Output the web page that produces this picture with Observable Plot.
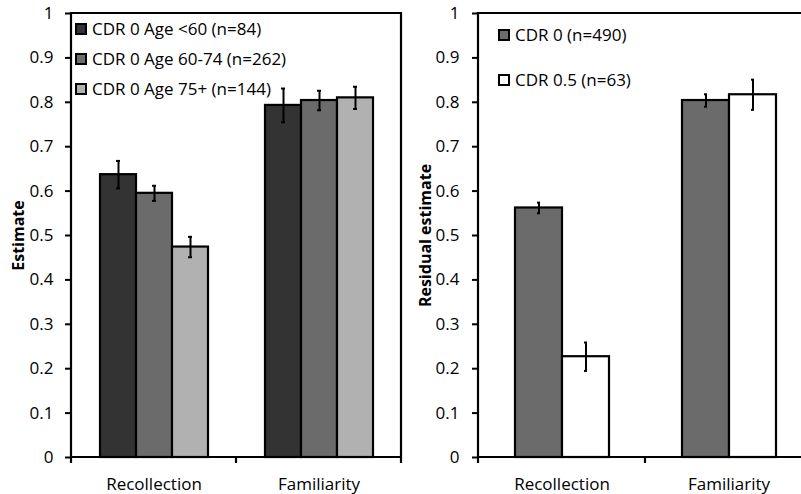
<!DOCTYPE html>
<html>
<head>
<meta charset="utf-8">
<script src="https://cdn.jsdelivr.net/npm/d3@7"></script>
<script src="https://cdn.jsdelivr.net/npm/@observablehq/plot@0.6"></script>
<style>
  body { margin: 0; background: #fff; }
  #wrap { position: relative; width: 801px; height: 494px; overflow: hidden; font-family: "Open Sans", sans-serif; background: #fff; }
  .panel { position: absolute; top: 0; }
  .panel svg { max-width: none !important; }
  .legend-row { position: absolute; display: flex; align-items: center; white-space: nowrap; font-size: 17px; line-height: 24px; height: 24px; color: #000; }
  .legend-row .sw { box-sizing: border-box; width: 12px; height: 12px; border: 2px solid #000; margin-right: 5px; }
</style>
</head>
<body>
<div id="wrap"></div>
<script>
// ---- data ----
const categories = ["Recollection", "Familiarity"];

const leftSeries = ["CDR 0 Age <60 (n=84)", "CDR 0 Age 60-74 (n=262)", "CDR 0 Age 75+ (n=144)"];
const leftColors = ["#333333", "#6b6b6b", "#b1b1b1"];
const leftRecollection = [0.637, 0.595, 0.474];
const leftRecollectionErr = [0.031, 0.017, 0.023];
const leftFamiliarity = [0.793, 0.804, 0.810];
const leftFamiliarityErr = [0.038, 0.022, 0.025];

const rightSeries = ["CDR 0 (n=490)", "CDR 0.5 (n=63)"];
const rightColors = ["#6b6b6b", "#ffffff"];
const rightRecollection = [0.562, 0.227];
const rightRecollectionErr = [0.012, 0.032];
const rightFamiliarity = [0.804, 0.817];
const rightFamiliarityErr = [0.014, 0.034];

const yTicks = [0, 0.1, 0.2, 0.3, 0.4, 0.5, 0.6, 0.7, 0.8, 0.9, 1];
const yTickLabels = ["0", "0.1", "0.2", "0.3", "0.4", "0.5", "0.6", "0.7", "0.8", "0.9", "1"];

const leftTitle = "Estimate";
const rightTitle = "Residual estimate";

// ---- build ----
const H = 494;
const wrap = document.getElementById("wrap");

function rowsFor(series, recV, recE, famV, famE) {
  const vals = [recV, famV], errs = [recE, famE];
  return categories.flatMap((c, i) => series.map((s, j) => ({category: c, series: s, value: vals[i][j], err: errs[i][j]})));
}

function drawFrame(chart, marginLeft, marginRight, width, tickLen) {
  let band;
  try {
    const fx = chart.scale("fx");
    band = d3.scaleBand(fx.domain, fx.range).paddingInner(fx.paddingInner ?? 0).paddingOuter(fx.paddingOuter ?? 0);
  } catch (e) {
    band = d3.scaleBand(categories, [marginLeft, width - marginRight]);
  }
  const y = chart.scale("y");
  const ys = d3.scaleLinear(y.domain, y.range);
  const left = band(categories[0]);
  const right = band(categories[categories.length - 1]) + band.bandwidth();
  const top = ys(1), bottom = ys(0);
  const g = d3.select(chart).append("g").attr("stroke", "#000").attr("stroke-width", 2.2).attr("fill", "none");
  g.append("path").attr("d", `M${left},${bottom + tickLen}V${top}H${right}V${bottom + tickLen}`);
  g.append("line").attr("x1", left).attr("x2", right).attr("y1", bottom).attr("y2", bottom);
  categories.slice(1).forEach(c => {
    const xb = band(c);
    g.append("line").attr("x1", xb).attr("x2", xb).attr("y1", bottom).attr("y2", bottom + tickLen);
  });
}

function panel({rows, series, colors, left, width, marginLeft, marginRight, xPad, capInset, label, labelOffset, tickPadding}) {
  const chart = Plot.plot({
    width, height: H,
    marginTop: 13, marginBottom: 37, marginLeft, marginRight,
    style: {fontFamily: '"Open Sans", sans-serif', fontSize: "17px", color: "#000", background: "transparent", overflow: "visible"},
    fx: {domain: categories, padding: 0, label: null},
    x: {domain: series, paddingInner: 0, paddingOuter: xPad, axis: null},
    y: {domain: [0, 1]},
    color: {domain: series, range: colors},
    marks: [
      Plot.barY(rows, {fx: "category", x: "series", y: "value", fill: "series", stroke: "#000", strokeWidth: 2.2}),
      Plot.ruleX(rows, {fx: "category", x: "series", y1: d => d.value - d.err, y2: d => d.value + d.err, stroke: "#000", strokeWidth: 2}),
      Plot.tickY(rows, {fx: "category", x: "series", y: d => d.value - d.err, stroke: "#000", strokeWidth: 2, inset: capInset}),
      Plot.tickY(rows, {fx: "category", x: "series", y: d => d.value + d.err, stroke: "#000", strokeWidth: 2, inset: capInset}),
      Plot.axisY({ticks: yTicks, tickFormat: d => yTickLabels[yTicks.indexOf(d)], tickSize: 6, tickPadding, strokeWidth: 2,
                  label, labelAnchor: "center", labelOffset, labelArrow: false}),
      Plot.axisFx({anchor: "bottom", tickSize: 0, tickPadding: 20, label: null})
    ]
  });
  chart.style.maxWidth = "none";
  drawFrame(chart, marginLeft, marginRight, width, 6);
  d3.select(chart).selectAll('g[aria-label="y-axis label"] text').attr("font-weight", "bold").attr("font-size", 16);
  const holder = document.createElement("div");
  holder.className = "panel";
  holder.style.left = left + "px";
  holder.style.width = width + "px";
  holder.appendChild(chart);
  wrap.appendChild(holder);
}

panel({
  rows: rowsFor(leftSeries, leftRecollection, leftRecollectionErr, leftFamiliarity, leftFamiliarityErr),
  series: leftSeries, colors: leftColors,
  left: 0, width: 410, marginLeft: 71, marginRight: 9,
  xPad: 0.73, capInset: 16, label: leftTitle, labelOffset: 59, tickPadding: 12
});

panel({
  rows: rowsFor(rightSeries, rightRecollection, rightRecollectionErr, rightFamiliarity, rightFamiliarityErr),
  series: rightSeries, colors: rightColors,
  left: 400, width: 420, marginLeft: 78, marginRight: 8,
  xPad: 0.74, capInset: 22, label: rightTitle, labelOffset: 59, tickPadding: 13
});

// ---- legends ----
function legend(series, colors, x, yCenters) {
  series.forEach((s, i) => {
    const row = document.createElement("div");
    row.className = "legend-row";
    row.style.left = x + "px";
    row.style.top = (yCenters[i] - 12) + "px";
    const sw = document.createElement("span");
    sw.className = "sw";
    sw.style.background = colors[i];
    const t = document.createElement("span");
    t.textContent = s;
    row.appendChild(sw);
    row.appendChild(t);
    wrap.appendChild(row);
  });
}
legend(leftSeries, leftColors, 75, [29, 59, 89]);
legend(rightSeries, rightColors, 498, [35, 80]);
</script>
</body>
</html>
